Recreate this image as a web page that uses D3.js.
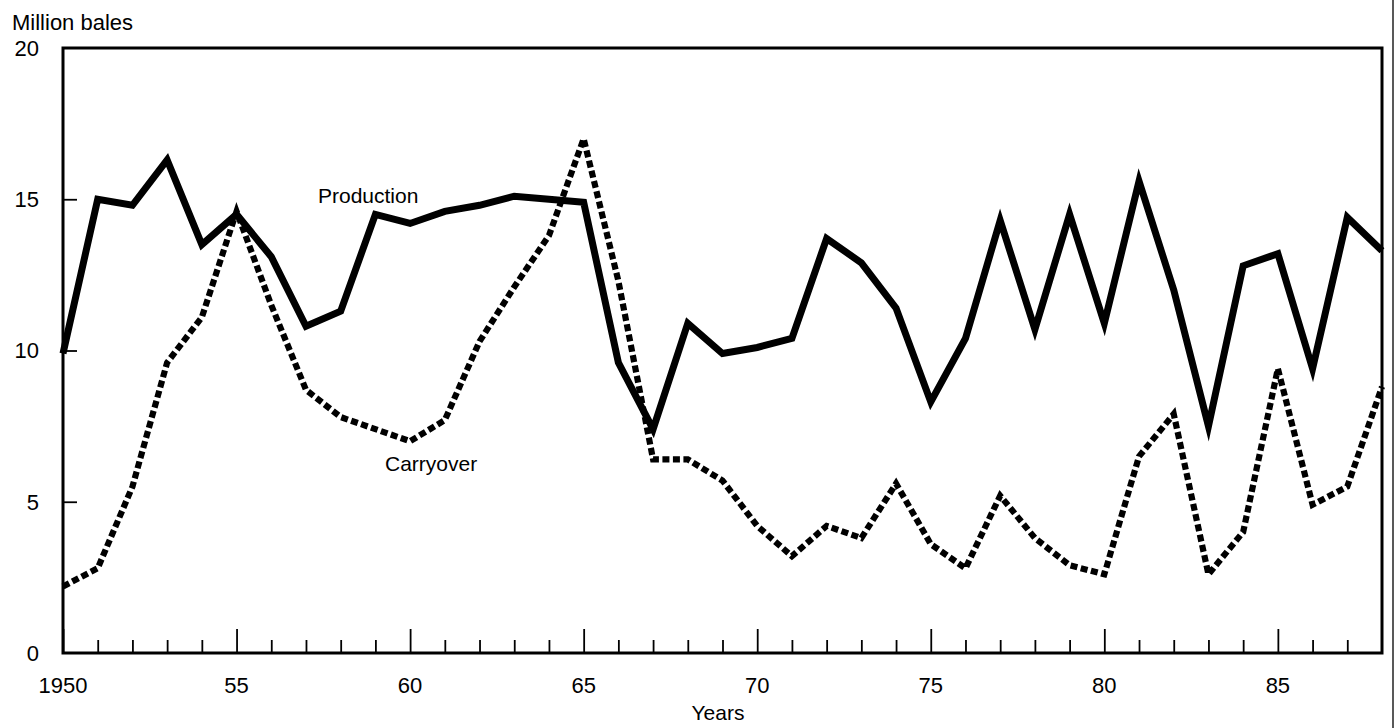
<!DOCTYPE html>
<html>
<head>
<meta charset="utf-8">
<script src="https://cdn.jsdelivr.net/npm/d3@7"></script>
<style>
body { margin: 0; background: #ffffff; }
text { font-family: "Liberation Sans", Arial, sans-serif; fill: #000000; }
</style>
</head>
<body>
<svg id="chart" width="1395" height="728"></svg>
<script>
// values, million bales
let years = d3.range(1950, 1989);
let production = [
    9.9, 15.0, 14.8, 16.3, 13.5, 14.5, 13.1, 10.8, 11.3, 14.5,
    14.2, 14.6, 14.8, 15.1, 15.0, 14.9, 9.6, 7.4, 10.9, 9.9,
    10.1, 10.4, 13.7, 12.9, 11.4, 8.3, 10.4, 14.3, 10.7, 14.5,
    10.9, 15.6, 12.0, 7.5, 12.8, 13.2, 9.4, 14.4, 13.3
];
let carryover = [
    2.2, 2.8, 5.5, 9.6, 11.1, 14.6, 11.5, 8.7, 7.8, 7.4,
    7.0, 7.7, 10.3, 12.1, 13.8, 17.0, 12.3, 6.4, 6.4, 5.7,
    4.2, 3.2, 4.2, 3.8, 5.6, 3.6, 2.8, 5.2, 3.8, 2.9,
    2.6, 6.5, 7.9, 2.6, 4.0, 9.4, 4.9, 5.5, 8.8
];
let xLabelYears = [1950, 1955, 1960, 1965, 1970, 1975, 1980, 1985];
let xLabels = ['1950', '55', '60', '65', '70', '75', '80', '85'];
let yTicks = [0, 5, 10, 15, 20];

let svg = d3.select('#chart');

let x = d3.scaleLinear().domain([1950, 1988]).range([63, 1382]);
let y = d3.scaleLinear().domain([0, 20]).range([653, 48]);

// inward ticks on the year axis, long ones every 5 years
let xAxis = d3.axisBottom(x)
    .tickValues(years.slice(0, 38))
    .tickFormat('')
    .tickSizeOuter(0);

let gx = svg.append('g')
    .attr('class', 'x axis')
    .attr('transform', 'translate(0,' + y(0) + ')')
    .call(xAxis);
gx.select('.domain').remove();
gx.selectAll('.tick line')
    .attr('y2', (d) => { return d % 5 === 0 ? -24 : -13; })
    .attr('stroke', '#000')
    .attr('stroke-width', 1.8);

gx.selectAll('text.lab')
    .data(xLabelYears)
    .enter()
    .append('text')
    .attr('class', 'lab')
    .attr('x', (d) => { return x(d); })
    .attr('y', 40)
    .attr('text-anchor', 'middle')
    .attr('font-size', 22)
    .text((d, i) => { return xLabels[i]; });

let yAxis = d3.axisLeft(y)
    .tickValues(yTicks)
    .tickFormat('')
    .tickSizeOuter(0);

let gy = svg.append('g')
    .attr('class', 'y axis')
    .attr('transform', 'translate(' + x(1950) + ',0)')
    .call(yAxis);
gy.select('.domain').remove();
gy.selectAll('.tick line')
    .attr('x2', (d) => { return (d === 0 || d === 20) ? 0 : 14; })
    .attr('stroke', '#000')
    .attr('stroke-width', 1.8);

gy.selectAll('text.lab')
    .data(yTicks)
    .enter()
    .append('text')
    .attr('class', 'lab')
    .attr('x', -24)
    .attr('y', (d) => { return y(d); })
    .attr('dy', '0.36em')
    .attr('text-anchor', 'end')
    .attr('font-size', 22)
    .text((d) => { return d; });

// frame
svg.append('rect')
    .attr('x', x(1950))
    .attr('y', y(20))
    .attr('width', x(1988) - x(1950))
    .attr('height', y(0) - y(20))
    .attr('fill', 'none')
    .attr('stroke', '#000')
    .attr('stroke-width', 3);

// page edge line from the scan
svg.append('line')
    .attr('x1', 1393).attr('x2', 1393)
    .attr('y1', 0).attr('y2', 728)
    .attr('stroke', '#222')
    .attr('stroke-width', 1.5);

let series = [
    { code: 'carryover', values: carryover, dash: '7,3.5', width: 6.2 },
    { code: 'production', values: production, dash: null, width: 7 },
];

let line = d3.line()
    .x((d) => { return x(d[0]); })
    .y((d) => { return y(d[1]); });

svg.selectAll('path.series')
    .data(series, (d) => { return d.code; })
    .enter()
    .append('path')
    .attr('class', (d) => { return 'series ' + d.code; })
    .attr('d', (d) => { return line(years.map((yr, i) => { return [yr, d.values[i]]; })); })
    .attr('fill', 'none')
    .attr('stroke', '#000')
    .attr('stroke-width', (d) => { return d.width; })
    .attr('stroke-dasharray', (d) => { return d.dash; })
    .attr('stroke-linejoin', 'miter')
    .attr('stroke-miterlimit', 10);

// series and axis titles
svg.append('text')
    .attr('x', 318).attr('y', 203)
    .attr('font-size', 21)
    .text('Production');

svg.append('text')
    .attr('x', 385).attr('y', 471)
    .attr('font-size', 21)
    .text('Carryover');

svg.append('text')
    .attr('x', 12).attr('y', 30)
    .attr('font-size', 22)
    .text('Million bales');

svg.append('text')
    .attr('x', 718).attr('y', 720)
    .attr('text-anchor', 'middle')
    .attr('font-size', 21)
    .text('Years');
</script>
</body>
</html>
